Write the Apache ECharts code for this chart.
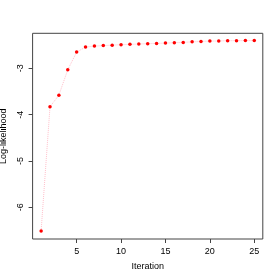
<!DOCTYPE html>
<html>
<head>
<meta charset="utf-8">
<script src="https://cdn.jsdelivr.net/npm/echarts@6/dist/echarts.min.js"></script>
<style>html,body{margin:0;padding:0;background:#fff}#c{width:280px;height:280px}</style>
</head>
<body>
<div id="c"></div>
<script>
var iterations = [1,2,3,4,5,6,7,8,9,10,11,12,13,14,15,16,17,18,19,20,21,22,23,24,25];
var logLik = [-6.51,-3.83,-3.58,-3.03,-2.65,-2.54,-2.52,-2.51,-2.50,-2.49,-2.483,-2.475,-2.468,-2.462,-2.456,-2.446,-2.44,-2.428,-2.42,-2.412,-2.41,-2.404,-2.403,-2.402,-2.40];
var xTicks = [5,10,15,20,25];
var yTicks = [-6,-5,-4,-3];

var chart = echarts.init(document.getElementById('c'), null, {renderer:'canvas'});
var font = 'Liberation Sans, Arial, sans-serif';
chart.setOption({
  animation:false,
  backgroundColor:'#fff',
  grid:{left:32.6, right:17.2, top:33.3, bottom:41, outerBoundsMode:'none', containLabel:false, show:true, borderColor:'#444', borderWidth:1, backgroundColor:'transparent'},
  xAxis:{
    type:'value', min:0.04, max:25.96,
    name:'Iteration', nameLocation:'middle', nameGap:23.5,
    nameTextStyle:{fontFamily:font, fontSize:9, color:'#000'},
    axisLine:{show:false},
    splitLine:{show:false},
    axisTick:{show:true, length:4, inside:false, customValues:xTicks, lineStyle:{color:'#444'}},
    axisLabel:{customValues:xTicks, margin:8.5, fontFamily:font, fontSize:9, color:'#000'}
  },
  yAxis:{
    type:'value', min:-6.685, max:-2.244,
    name:'Log-likelihood', nameLocation:'middle', nameGap:23,
    nameTextStyle:{fontFamily:font, fontSize:9, color:'#000'},
    axisLine:{show:false},
    splitLine:{show:false},
    axisTick:{show:true, length:4, inside:false, customValues:yTicks, lineStyle:{color:'#444'}},
    axisLabel:{customValues:yTicks, rotate:90, margin:8, fontFamily:font, fontSize:9, color:'#000'}
  },
  series:[{
    type:'line',
    data:iterations.map(function(x,i){return [x, logLik[i]];}),
    symbol:'circle', symbolSize:3.5,
    itemStyle:{color:'#ff0000'},
    lineStyle:{color:'#ffc0cb', width:1, type:'dotted'}
  }]
});
</script>
</body>
</html>
